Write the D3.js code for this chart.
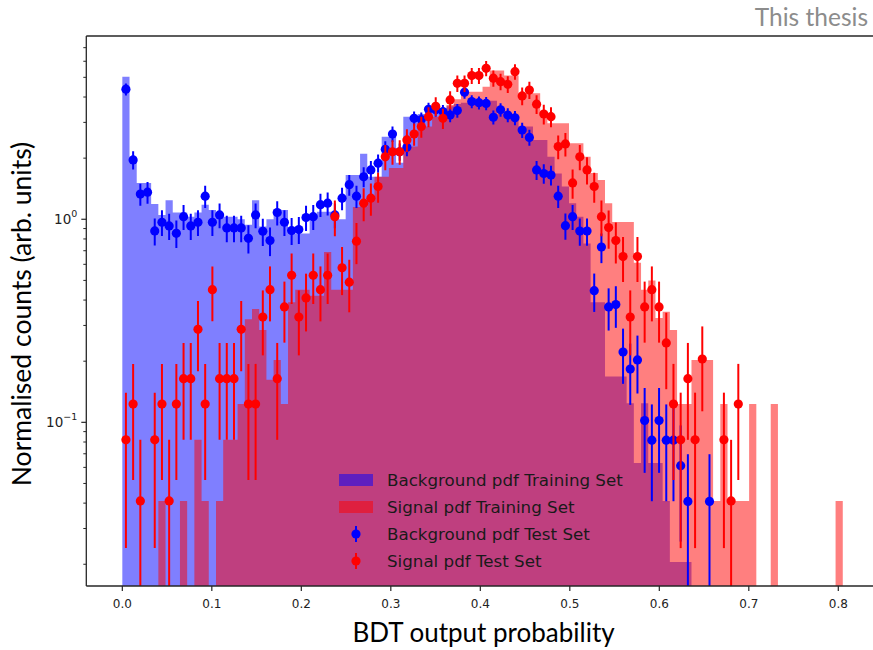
<!DOCTYPE html>
<html>
<head>
<meta charset="utf-8">
<script src="https://cdn.jsdelivr.net/npm/d3@7"></script>
<style>
  body { margin: 0; background: #fff; }
  svg { display: block; }
</style>
</head>
<body>
<svg id="chart" width="873" height="650"></svg>
<script>
// histogram binning: 100 bins between the lowest and highest BDT score
const binLow = 0.0;
const binHigh = 0.805;
const nBins = 100;

// normalised weight of one test-set entry (for the Poisson error bars)
const bgTestUnit = 0.0204;
const sigTestUnit = 0.041;

// background, training set (filled histogram)
const bgTrain = [
  5.04, 2.03, 1.51, 1.51, 1.19, 1.05, 1.24, 1.08, 1.08, 1.03,
  1.08, 1.18, 1.11, 1.03, 1.03, 1.03, 1.0, 0.94, 1.24, 0.92,
  1.0, 1.11, 1.11, 0.885, 0.85, 0.85, 1.0, 1.09, 1.09, 1.09,
  1.0, 1.65, 1.65, 2.1, 1.62, 1.62, 2.55, 2.55, 1.9, 3.2,
  3.2, 3.3, 3.4, 3.5, 3.5, 3.6, 3.7, 3.75, 3.75, 3.8,
  3.8, 3.83, 3.3, 3.3, 3.2, 2.86, 2.86, 2.46, 2.46, 2.03,
  1.68, 1.45, 1.2, 1.03, 0.76, 0.39, 0.39, 0.168, 0.168, 0.168,
  0.124, 0.063, 0.124, 0.063, 0.063, 0.041, 0.0205, 0.0205, 0.0205, 0,
  0, 0, 0, 0, 0, 0, 0, 0, 0, 0,
  0, 0, 0, 0, 0, 0, 0, 0, 0, 0
];

// signal, training set (filled histogram)
const sigTrain = [
  0, 0, 0, 0, 0, 0.041, 0, 0, 0.041, 0,
  0.082, 0.041, 0, 0.041, 0.082, 0.082, 0.123, 0.322, 0.362, 0.285,
  0.162, 0.203, 0.123, 0.39, 0.45, 0.45, 0.42, 0.42, 0.69, 0.45,
  0.45, 0.45, 1.15, 1.15, 1.29, 1.62, 1.62, 1.79, 1.79, 2.28,
  2.28, 2.86, 2.86, 3.2, 3.2, 3.65, 3.9, 4.25, 4.25, 4.25,
  4.5, 5.4, 5.4, 5.1, 5.1, 4.17, 4.17, 4.17, 3.39, 2.97,
  2.97, 2.97, 2.37, 2.37, 2.03, 1.69, 1.56, 1.2, 0.97, 0.97,
  0.97, 0.61, 0.45, 0.5, 0.326, 0.35, 0.285, 0.123, 0.123, 0.203,
  0.203, 0.203, 0.041, 0.123, 0.041, 0.041, 0.041, 0.123, 0, 0,
  0.123, 0, 0, 0, 0, 0, 0, 0, 0, 0.041
];

// background, test set (points), 0 = empty bin
const bgTest = [
  4.37, 1.96, 1.33, 1.36, 0.876, 0.967, 0.927, 0.853, 1.03, 0.927,
  0.967, 1.30, 0.967, 1.05, 0.906, 0.906, 0.906, 0.806, 1.05, 0.873,
  0.785, 1.08, 0.967, 0.88, 0.89, 1.02, 1.03, 1.18, 1.20, 1.05,
  1.27, 1.48, 1.30, 1.62, 1.75, 1.89, 2.21, 2.63, 2.15, 2.26,
  3.14, 3.10, 3.48, 3.46, 3.39, 3.26, 3.43, 4.22, 3.80, 3.75,
  3.72, 3.18, 3.46, 3.26, 3.16, 2.75, 2.53, 1.75, 1.68, 1.65,
  1.30, 0.93, 1.03, 0.875, 0.875, 0.445, 0.73, 0.37, 0.38, 0.222,
  0.183, 0.203, 0.102, 0.0817, 0.102, 0.0817, 0.0817, 0.0612, 0.0408, 0,
  0, 0.0408, 0, 0, 0, 0, 0, 0, 0, 0,
  0, 0, 0, 0, 0, 0, 0, 0, 0, 0
];

// signal, test set (points), 0 = empty bin
const sigTest = [
  0.082, 0.123, 0.041, 0, 0.082, 0.123, 0.041, 0.123, 0.164, 0.164,
  0.287, 0.123, 0.45, 0.164, 0.164, 0.164, 0.287, 0.123, 0.123, 0.33,
  0.45, 0.164, 0.37, 0.53, 0.33, 0.41, 0.53, 0.45, 0.53, 1.03,
  0.577, 0.49, 0.78, 1.2, 1.27, 1.45, 2.03, 2.15, 2.15, 2.46,
  2.63, 2.86, 3.2, 3.6, 3.14, 3.87, 4.67, 4.67, 5.1, 5.1,
  5.54, 4.95, 4.76, 4.62, 5.33, 4.05, 4.33, 3.69, 3.30, 3.2,
  2.28, 2.35, 1.51, 2.03, 1.75, 1.45, 1.03, 0.91, 0.785, 0.655,
  0.33, 0.655, 0.37, 0.45, 0.37, 0.246, 0.123, 0.082, 0.164, 0.082,
  0.205, 0, 0, 0.082, 0.041, 0.123, 0, 0, 0, 0,
  0, 0, 0, 0, 0, 0, 0, 0, 0, 0
];

const xTicks = [0, 0.1, 0.2, 0.3, 0.4, 0.5, 0.6, 0.7, 0.8];
const xTickLabels = ["0.0", "0.1", "0.2", "0.3", "0.4", "0.5", "0.6", "0.7", "0.8"];
const yTicks = [0.1, 1];
const yTickLabels = [["10", "\u22121"], ["10", "0"]];
const yMinorTicks = [0.02, 0.03, 0.04, 0.05, 0.06, 0.07, 0.08, 0.09,
  0.2, 0.3, 0.4, 0.5, 0.6, 0.7, 0.8, 0.9, 2, 3, 4, 5, 6, 7];

const legendItems = [
  { label: "Background pdf Training Set", kind: "patch", color: "rgba(0,0,255,0.5)" },
  { label: "Signal pdf Training Set", kind: "patch", color: "rgba(255,0,0,0.5)" },
  { label: "Background pdf Test Set", kind: "point", color: "#0000ff" },
  { label: "Signal pdf Test Set", kind: "point", color: "#ff0000" }
];

const svg = d3.select("#chart");
const plot = { left: 86.3, right: 878.8, top: 36, bottom: 586 };

const pad = (binHigh - binLow) * 0.05;
const x = d3.scaleLinear()
  .domain([binLow - pad, binHigh + pad])
  .range([plot.left, plot.right]);
const y = d3.scaleLog()
  .domain([0.01563, 7.99])
  .range([plot.bottom, plot.top]);

const binW = (binHigh - binLow) / nBins;
const edges = d3.range(nBins + 1).map(i => binLow + i * binW);
const centres = d3.range(nBins).map(i => binLow + (i + 0.5) * binW);

svg.append("defs").append("clipPath").attr("id", "plotclip")
  .append("rect")
  .attr("x", plot.left).attr("y", plot.top)
  .attr("width", plot.right - plot.left).attr("height", plot.bottom - plot.top);

const g = svg.append("g").attr("clip-path", "url(#plotclip)");

const yClamp = v => v > 0 ? Math.max(plot.top - 5, Math.min(plot.bottom + 5, y(v))) : plot.bottom + 5;

function stepFilled(values, color) {
  const pts = values.map((v, i) => [edges[i], v]);
  pts.push([edges[nBins], values[nBins - 1]]);
  const area = d3.area()
    .curve(d3.curveStepAfter)
    .x(d => x(d[0]))
    .y0(plot.bottom + 5)
    .y1(d => yClamp(d[1]));
  g.append("path")
    .attr("d", area(pts))
    .attr("fill", color)
    .attr("fill-opacity", 0.5);
}

stepFilled(bgTrain, "#0000ff");
stepFilled(sigTrain, "#ff0000");

function errorPoints(values, unit, color) {
  const data = centres.map((c, i) => ({ c, v: values[i] })).filter(d => d.v > 0);
  const grp = g.append("g");
  grp.selectAll("line")
    .data(data)
    .join("line")
    .attr("x1", d => x(d.c)).attr("x2", d => x(d.c))
    .attr("y1", d => yClamp(d.v + Math.sqrt(d.v * unit)))
    .attr("y2", d => {
      const lo = d.v - Math.sqrt(d.v * unit);
      return lo > 1e-6 ? yClamp(lo) : plot.bottom + 5;
    })
    .attr("stroke", color)
    .attr("stroke-width", 2);
  grp.selectAll("circle")
    .data(data)
    .join("circle")
    .attr("cx", d => x(d.c)).attr("cy", d => y(d.v))
    .attr("r", 4.6)
    .attr("fill", color);
}

errorPoints(bgTest, bgTestUnit, "#0000ff");
errorPoints(sigTest, sigTestUnit, "#ff0000");

// legend (no frame)
const leg = svg.append("g");
const legX = 339, legY0 = 480, legDy = 27;
legendItems.forEach((it, i) => {
  const cy = legY0 + i * legDy;
  if (it.kind === "patch") {
    leg.append("rect")
      .attr("x", legX).attr("y", cy - 6)
      .attr("width", 34).attr("height", 12)
      .attr("fill", it.color);
  } else {
    leg.append("line")
      .attr("x1", legX + 17).attr("x2", legX + 17)
      .attr("y1", cy - 8).attr("y2", cy + 8)
      .attr("stroke", it.color).attr("stroke-width", 2);
    leg.append("circle")
      .attr("cx", legX + 17).attr("cy", cy).attr("r", 4.6)
      .attr("fill", it.color);
  }
  leg.append("text")
    .attr("x", 387).attr("y", cy + 6)
    .attr("font-family", "DejaVu Sans")
    .attr("font-size", 16.7)
    .attr("fill", "#1a1a1a")
    .text(it.label);
});

// axes
const axisColor = "#262626";
const ax = svg.append("g");
ax.append("line").attr("x1", plot.left).attr("x2", 873).attr("y1", plot.top).attr("y2", plot.top)
  .attr("stroke", axisColor).attr("stroke-width", 1.3);
ax.append("line").attr("x1", plot.left).attr("x2", 873).attr("y1", plot.bottom).attr("y2", plot.bottom)
  .attr("stroke", axisColor).attr("stroke-width", 1.3);
ax.append("line").attr("x1", plot.left).attr("x2", plot.left).attr("y1", plot.top).attr("y2", plot.bottom)
  .attr("stroke", axisColor).attr("stroke-width", 1.3);

xTicks.forEach((t, i) => {
  ax.append("line").attr("x1", x(t)).attr("x2", x(t)).attr("y1", plot.bottom).attr("y2", plot.bottom + 5)
    .attr("stroke", axisColor).attr("stroke-width", 1.2);
  ax.append("text")
    .attr("x", x(t)).attr("y", plot.bottom + 22)
    .attr("text-anchor", "middle")
    .attr("font-family", "DejaVu Sans").attr("font-size", 12)
    .attr("fill", "#222")
    .text(xTickLabels[i]);
});

yMinorTicks.forEach(t => {
  ax.append("line").attr("x1", plot.left - 3).attr("x2", plot.left).attr("y1", y(t)).attr("y2", y(t))
    .attr("stroke", axisColor).attr("stroke-width", 1);
});
yTicks.forEach((t, i) => {
  ax.append("line").attr("x1", plot.left - 5).attr("x2", plot.left).attr("y1", y(t)).attr("y2", y(t))
    .attr("stroke", axisColor).attr("stroke-width", 1.2);
  const tx = ax.append("text")
    .attr("x", plot.left - 9).attr("y", y(t) + 5)
    .attr("text-anchor", "end")
    .attr("font-family", "DejaVu Sans").attr("font-size", 13.5)
    .attr("fill", "#222");
  tx.append("tspan").text(yTickLabels[i][0]);
  tx.append("tspan").attr("dy", -7).attr("font-size", 9.5).text(yTickLabels[i][1]);
});

// axis titles
svg.append("text")
  .attr("transform", `translate(31,${(plot.top + plot.bottom) / 2 + 3}) rotate(-90)`)
  .attr("text-anchor", "middle")
  .attr("font-family", "Lato").attr("font-size", 26.5)
  .attr("fill", "#000")
  .text("Normalised counts (arb. units)");

svg.append("text")
  .attr("x", (plot.left + plot.right) / 2 + 1).attr("y", 642)
  .attr("text-anchor", "middle")
  .attr("font-family", "Lato").attr("font-size", 26)
  .attr("fill", "#000")
  .text("BDT output probability");

svg.append("text")
  .attr("x", 868).attr("y", 26)
  .attr("text-anchor", "end")
  .attr("font-family", "Lato").attr("font-size", 24.5)
  .attr("fill", "#8c8c8c")
  .text("This thesis");
</script>
</body>
</html>
